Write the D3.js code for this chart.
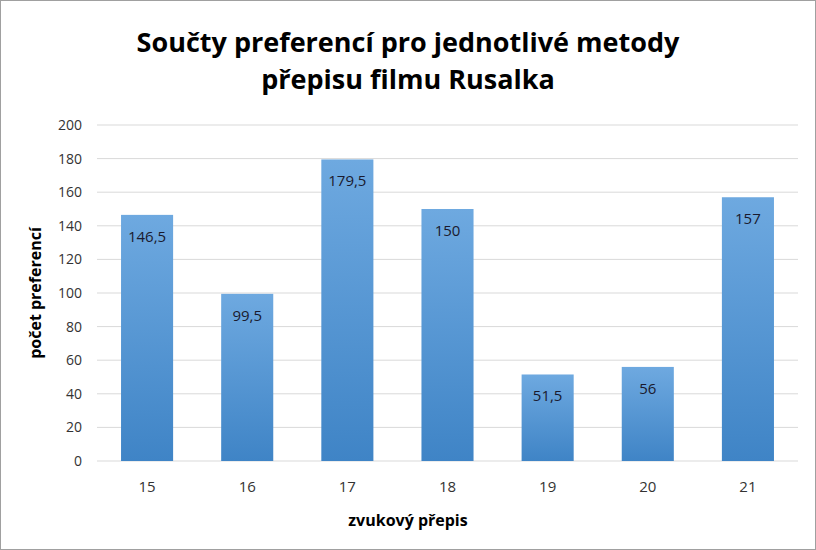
<!DOCTYPE html><html><head><meta charset="utf-8"><script src="https://cdn.jsdelivr.net/npm/d3@7"></script>
<style>body{margin:0;background:#fff}text{font-family:"Open Sans","Noto Sans",sans-serif}</style></head><body><svg width="816" height="550"></svg>
<script>
const categories=["15","16","17","18","19","20","21"];
const values=[146.5,99.5,179.5,150,51.5,56,157];
const labels=["146,5","99,5","179,5","150","51,5","56","157"];
const yTicks=[0,20,40,60,80,100,120,140,160,180,200];
const svg=d3.select("svg");
svg.append("rect").attr("x",0.5).attr("y",0.5).attr("width",815).attr("height",549).attr("fill","#fff").attr("stroke","#a0a0a0");
const defs=svg.append("defs");
const g=defs.append("linearGradient").attr("id","gr").attr("x1",0).attr("y1",0).attr("x2",0).attr("y2",1);
g.append("stop").attr("offset","0%").attr("stop-color","#6ea9e0");
g.append("stop").attr("offset","100%").attr("stop-color","#3f84c6");
const x=d3.scaleBand().domain(categories).range([97,798]).paddingInner(0.48).paddingOuter(0.24);
const y=d3.scaleLinear().domain([0,200]).range([461,125]);
svg.append("g").selectAll("line").data(yTicks).join("line").attr("x1",97).attr("x2",798).attr("y1",d=>y(d)).attr("y2",d=>y(d)).attr("stroke","#d9d9d9");
svg.append("g").selectAll("text").data(yTicks).join("text").attr("x",82).attr("y",d=>y(d)+5).attr("text-anchor","end").attr("font-size",14).attr("fill","#333").text(d=>d);
svg.append("g").selectAll("rect").data(values).join("rect").attr("x",(d,i)=>x(categories[i])).attr("width",x.bandwidth()).attr("y",d=>y(d)).attr("height",d=>y(0)-y(d)).attr("fill","url(#gr)");
svg.append("g").selectAll("text").data(values).join("text").attr("x",(d,i)=>x(categories[i])+x.bandwidth()/2).attr("y",d=>y(d)+27).attr("text-anchor","middle").attr("font-size",15).attr("fill","#1a1a2e").text((d,i)=>labels[i]);
svg.append("g").selectAll("text").data(categories).join("text").attr("x",d=>x(d)+x.bandwidth()/2).attr("y",492).attr("text-anchor","middle").attr("font-size",15).attr("fill","#333").text(d=>d);
svg.append("text").attr("x",408).attr("y",526).attr("text-anchor","middle").attr("font-size",16).attr("font-weight","bold").text("zvukový přepis");
svg.append("text").attr("transform","translate(41,293) rotate(-90)").attr("text-anchor","middle").attr("font-size",16).attr("font-weight","bold").text("počet preferencí");
svg.append("text").attr("x",408).attr("y",52).attr("text-anchor","middle").attr("font-size",27).attr("font-weight","bold").text("Součty preferencí pro jednotlivé metody");
svg.append("text").attr("x",408).attr("y",89).attr("text-anchor","middle").attr("font-size",27).attr("font-weight","bold").text("přepisu filmu Rusalka");
</script></body></html>
